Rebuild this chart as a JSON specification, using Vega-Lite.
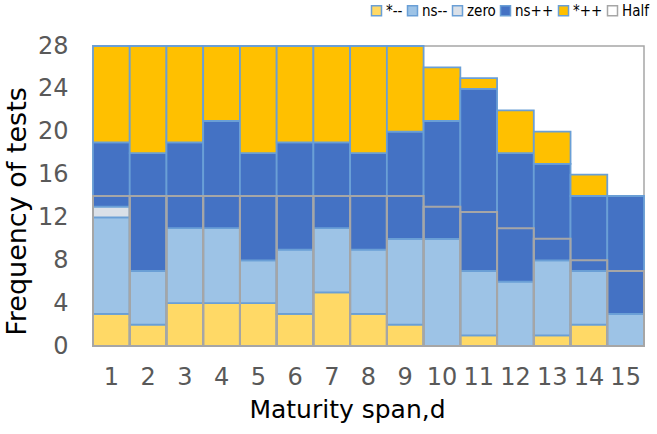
{
  "$schema": "https://vega.github.io/schema/vega-lite/v6.json",
  "width": 551,
  "height": 300,
  "autosize": {"type": "none"},
  "padding": {"left": 93, "top": 46, "right": 13, "bottom": 88},
  "background": "white",
  "config": {
    "view": {"stroke": "#A6A6A6", "strokeWidth": 1.5},
    "font": "DejaVu Sans"
  },
  "data": {
    "values": [
      {"d": 1, "c": "*--", "n": 3}, {"d": 1, "c": "ns--", "n": 9}, {"d": 1, "c": "zero", "n": 1}, {"d": 1, "c": "ns++", "n": 6}, {"d": 1, "c": "*++", "n": 9}, {"d": 1, "c": "Half", "n": 14},
      {"d": 2, "c": "*--", "n": 2}, {"d": 2, "c": "ns--", "n": 5}, {"d": 2, "c": "ns++", "n": 11}, {"d": 2, "c": "*++", "n": 10}, {"d": 2, "c": "Half", "n": 14},
      {"d": 3, "c": "*--", "n": 4}, {"d": 3, "c": "ns--", "n": 7}, {"d": 3, "c": "ns++", "n": 8}, {"d": 3, "c": "*++", "n": 9}, {"d": 3, "c": "Half", "n": 14},
      {"d": 4, "c": "*--", "n": 4}, {"d": 4, "c": "ns--", "n": 7}, {"d": 4, "c": "ns++", "n": 10}, {"d": 4, "c": "*++", "n": 7}, {"d": 4, "c": "Half", "n": 14},
      {"d": 5, "c": "*--", "n": 4}, {"d": 5, "c": "ns--", "n": 4}, {"d": 5, "c": "ns++", "n": 10}, {"d": 5, "c": "*++", "n": 10}, {"d": 5, "c": "Half", "n": 14},
      {"d": 6, "c": "*--", "n": 3}, {"d": 6, "c": "ns--", "n": 6}, {"d": 6, "c": "ns++", "n": 10}, {"d": 6, "c": "*++", "n": 9}, {"d": 6, "c": "Half", "n": 14},
      {"d": 7, "c": "*--", "n": 5}, {"d": 7, "c": "ns--", "n": 6}, {"d": 7, "c": "ns++", "n": 8}, {"d": 7, "c": "*++", "n": 9}, {"d": 7, "c": "Half", "n": 14},
      {"d": 8, "c": "*--", "n": 3}, {"d": 8, "c": "ns--", "n": 6}, {"d": 8, "c": "ns++", "n": 9}, {"d": 8, "c": "*++", "n": 10}, {"d": 8, "c": "Half", "n": 14},
      {"d": 9, "c": "*--", "n": 2}, {"d": 9, "c": "ns--", "n": 8}, {"d": 9, "c": "ns++", "n": 10}, {"d": 9, "c": "*++", "n": 8}, {"d": 9, "c": "Half", "n": 14},
      {"d": 10, "c": "ns--", "n": 10}, {"d": 10, "c": "ns++", "n": 11}, {"d": 10, "c": "*++", "n": 5}, {"d": 10, "c": "Half", "n": 13},
      {"d": 11, "c": "*--", "n": 1}, {"d": 11, "c": "ns--", "n": 6}, {"d": 11, "c": "ns++", "n": 17}, {"d": 11, "c": "*++", "n": 1}, {"d": 11, "c": "Half", "n": 12.5},
      {"d": 12, "c": "ns--", "n": 6}, {"d": 12, "c": "ns++", "n": 12}, {"d": 12, "c": "*++", "n": 4}, {"d": 12, "c": "Half", "n": 11},
      {"d": 13, "c": "*--", "n": 1}, {"d": 13, "c": "ns--", "n": 7}, {"d": 13, "c": "ns++", "n": 9}, {"d": 13, "c": "*++", "n": 3}, {"d": 13, "c": "Half", "n": 10},
      {"d": 14, "c": "*--", "n": 2}, {"d": 14, "c": "ns--", "n": 5}, {"d": 14, "c": "ns++", "n": 7}, {"d": 14, "c": "*++", "n": 2}, {"d": 14, "c": "Half", "n": 8},
      {"d": 15, "c": "ns--", "n": 3}, {"d": 15, "c": "ns++", "n": 11}, {"d": 15, "c": "Half", "n": 7}
    ]
  },
  "encoding": {
    "x": {
      "field": "d",
      "type": "ordinal",
      "scale": {"paddingInner": 0, "paddingOuter": 0},
      "axis": {
        "title": "Maturity span,d",
        "labelAngle": 0,
        "labelFontSize": 24,
        "labelColor": "#595959",
        "labelPadding": 19,
        "ticks": false,
        "domain": false,
        "titleFontSize": 25,
        "titleFontWeight": "normal",
        "titleColor": "#000000",
        "titlePadding": 8,
        "titleX": 254
      }
    },
    "color": {
      "field": "c",
      "type": "nominal",
      "scale": {
        "domain": ["*--", "ns--", "zero", "ns++", "*++", "Half"],
        "range": ["#FFD966", "#9DC3E6", "#DAE0E8", "#4472C4", "#FFC000", "rgba(255,255,255,0)"]
      },
      "legend": {
        "orient": "none",
        "direction": "horizontal",
        "legendX": 276,
        "legendY": -43,
        "title": null,
        "labelFont": "DejaVu Sans Condensed",
        "labelFontSize": 15,
        "labelColor": "#000000",
        "symbolType": "square",
        "symbolSize": 100,
        "symbolStrokeWidth": 1.5,
        "labelOffset": 2,
        "columnPadding": 1
      }
    },
    "stroke": {
      "field": "c",
      "type": "nominal",
      "scale": {
        "domain": ["*--", "ns--", "zero", "ns++", "*++", "Half"],
        "range": ["#6A9FD6", "#6A9FD6", "#6A9FD6", "#6A9FD6", "#6A9FD6", "#A6A6A6"]
      }
    }
  },
  "layer": [
    {
      "transform": [
        {"filter": "datum.c !== 'Half'"},
        {"calculate": "indexof(['*--','ns--','zero','ns++','*++'], datum.c)", "as": "o"}
      ],
      "mark": {"type": "bar", "strokeWidth": 1.8},
      "encoding": {
        "y": {
          "field": "n",
          "type": "quantitative",
          "stack": "zero",
          "scale": {"domain": [0, 28]},
          "axis": {
            "title": "Frequency of tests",
            "values": [0, 4, 8, 12, 16, 20, 24, 28],
            "grid": false,
            "ticks": false,
            "domain": false,
            "labelFontSize": 24,
            "labelColor": "#595959",
            "labelPadding": 25,
            "titleFontSize": 27,
            "titleFontWeight": "normal",
            "titleColor": "#000000",
            "titlePadding": 6,
            "titleY": 165
          }
        },
        "order": {"field": "o", "type": "quantitative", "sort": "ascending"}
      }
    },
    {
      "transform": [{"filter": "datum.c === 'Half'"}],
      "mark": {"type": "bar", "strokeWidth": 2},
      "encoding": {
        "y": {"field": "n", "type": "quantitative", "stack": null}
      }
    }
  ]
}
